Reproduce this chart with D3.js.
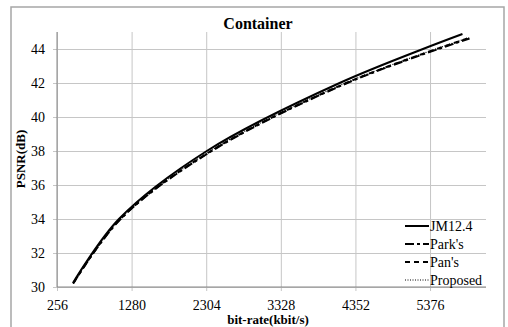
<!DOCTYPE html>
<html>
<head>
<meta charset="utf-8">
<script src="https://cdn.jsdelivr.net/npm/d3@7"></script>
<style>
  body { margin: 0; background: #fff; }
  svg { display: block; }
</style>
</head>
<body>
<div id="chart"></div>
<script>
const xTicks = [256, 1280, 2304, 3328, 4352, 5376]
const yTicks = [30, 32, 34, 36, 38, 40, 42, 44]

const jmRate = [475, 1106, 2312, 4135, 5821]
const jmPsnr = [30.24, 34.0, 38.0, 42.0, 44.88]

const parkRate = [478, 1130, 2380, 4240, 5918]
const parkPsnr = [30.2, 34.0, 38.0, 42.0, 44.62]

const panRate = [485, 1125, 2370, 4225, 5910]
const panPsnr = [30.25, 34.0, 38.0, 42.0, 44.65]

const propRate = [480, 1120, 2360, 4215, 5905]
const propPsnr = [30.2, 34.0, 38.0, 42.0, 44.66]

const series = [
  { name: 'JM12.4', rate: jmRate, psnr: jmPsnr, dash: null, width: 2 },
  { name: "Park's", rate: parkRate, psnr: parkPsnr, dash: '9,3,3,3', width: 2 },
  { name: "Pan's", rate: panRate, psnr: panPsnr, dash: '5,4', width: 2 },
  { name: 'Proposed', rate: propRate, psnr: propPsnr, dash: '1,1.5', width: 1.2 },
]

const W = 508, H = 327
const plot = { left: 57, top: 32, right: 486, bottom: 287 }
const axeColor = '#868686'
const gridColor = '#c6c6c6'
const font = "'Liberation Serif', 'Times New Roman', 'DejaVu Serif', serif"

const svg = d3.select('#chart').append('svg')
  .attr('width', W)
  .attr('height', H)

// cadre
svg.append('rect')
  .attr('x', 11).attr('y', 7)
  .attr('width', 493).attr('height', 322)
  .attr('fill', '#fff')
  .attr('stroke', '#a6a6a6')
  .attr('stroke-width', 1.5)

const x = d3.scaleLinear().domain([256, 6144]).range([plot.left, plot.right])
const y = d3.scaleLinear().domain([30, 45]).range([plot.bottom, plot.top])

// grille
const xAxis = svg.append('g')
  .attr('transform', `translate(0,${plot.bottom})`)
  .call(d3.axisBottom(x).tickValues(xTicks).tickFormat(d3.format('d'))
    .tickSize(-(plot.bottom - plot.top)).tickSizeOuter(0).tickPadding(13))
xAxis.select('.domain').remove()
xAxis.selectAll('.tick line').attr('stroke', gridColor).attr('y1', 4)
xAxis.selectAll('.tick text').attr('font-size', 14).attr('fill', '#000')

const yAxis = svg.append('g')
  .attr('transform', `translate(${plot.left},0)`)
  .call(d3.axisLeft(y).tickValues(yTicks).tickFormat(d3.format('d'))
    .tickSize(-(plot.right - plot.left)).tickSizeOuter(0).tickPadding(12))
yAxis.select('.domain').remove()
yAxis.selectAll('.tick line').attr('stroke', gridColor).attr('x1', -4)
yAxis.selectAll('.tick text').attr('font-size', 14).attr('fill', '#000')

// axes
svg.append('line')
  .attr('x1', plot.left).attr('x2', plot.left)
  .attr('y1', plot.top).attr('y2', plot.bottom)
  .attr('stroke', axeColor)
svg.append('line')
  .attr('x1', plot.left).attr('x2', plot.right)
  .attr('y1', plot.bottom).attr('y2', plot.bottom)
  .attr('stroke', axeColor)

// courbes
const line = d3.line()
  .x(d => x(d[0]))
  .y(d => y(d[1]))
  .curve(d3.curveCatmullRom.alpha(0.5))

svg.append('g').selectAll('path')
  .data(series)
  .join('path')
  .attr('d', s => line(s.rate.map((r, i) => [r, s.psnr[i]])))
  .attr('fill', 'none')
  .attr('stroke', '#000')
  .attr('stroke-width', s => s.width)
  .attr('stroke-dasharray', s => s.dash)

// titre
svg.append('text')
  .attr('x', 258).attr('y', 29)
  .attr('text-anchor', 'middle')
  .attr('font-size', 16).attr('font-weight', 'bold')
  .text('Container')

svg.append('text')
  .attr('x', 268).attr('y', 324)
  .attr('text-anchor', 'middle')
  .attr('font-size', 13).attr('font-weight', 'bold')
  .text('bit-rate(kbit/s)')

svg.append('text')
  .attr('transform', 'translate(25,159) rotate(-90)')
  .attr('text-anchor', 'middle')
  .attr('font-size', 13).attr('font-weight', 'bold')
  .text('PSNR(dB)')

// legende
const legend = svg.append('g').selectAll('g')
  .data(series)
  .join('g')
  .attr('transform', (d, i) => `translate(405,${226 + i * 18})`)

legend.append('line')
  .attr('x1', 0).attr('x2', 24)
  .attr('stroke', '#000')
  .attr('stroke-width', d => d.width)
  .attr('stroke-dasharray', d => d.dash)

legend.append('text')
  .attr('x', 25).attr('y', 5)
  .attr('font-size', 14)
  .text(d => d.name)

// police serif sur tous les textes
svg.selectAll('g').attr('font-family', null)
svg.selectAll('text').attr('font-family', font).style('font-family', font)
</script>
</body>
</html>
